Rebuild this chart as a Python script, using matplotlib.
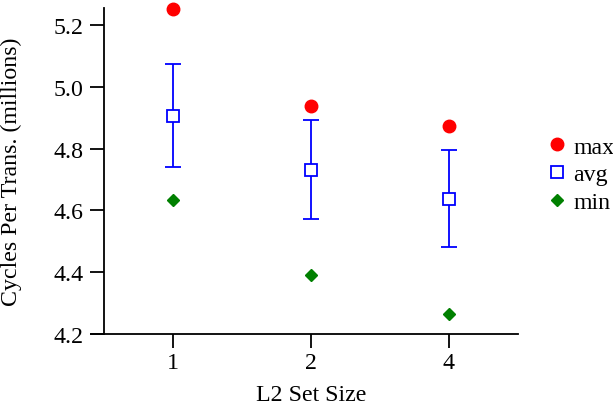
import matplotlib
matplotlib.use("Agg")
import matplotlib.pyplot as plt
from matplotlib.lines import Line2D
import numpy as np

categories = ["1", "2", "4"]
max_vals = [5.252, 4.938, 4.874]
avg_vals = [4.906, 4.732, 4.638]
err_hi = [5.073, 4.891, 4.796]
err_lo = [4.740, 4.571, 4.481]
min_vals = [4.634, 4.392, 4.265]
yticks = [4.2, 4.4, 4.6, 4.8, 5.0, 5.2]

FS = 17.2
plt.rcParams['font.family'] = ['Liberation Serif', 'DejaVu Serif']
plt.rcParams['font.size'] = FS

W, H = 613, 410
fig = plt.figure(figsize=(W / 100, H / 100), dpi=100)
ax = fig.add_axes([91 / W, 75 / H, (518 - 91) / W, (335 - 9) / H])

x = np.arange(len(categories))
avg = np.array(avg_vals)
yerr = np.vstack([avg - np.array(err_lo), np.array(err_hi) - avg])

red, blue, green = '#ff0000', '#0000ff', '#008000'
ax.plot(x, max_vals, linestyle='none', marker='o', color=red,
        markersize=9, clip_on=False, zorder=3)
ax.errorbar(x, avg, yerr=yerr, linestyle='none', marker='s', markersize=8,
            markerfacecolor='white', markeredgecolor=blue, markeredgewidth=1.3,
            ecolor=blue, elinewidth=1.3, capsize=6, capthick=1.3, zorder=3)
ax.plot(x, min_vals, linestyle='none', marker='D', color=green,
        markersize=6.5, zorder=3)

ax.set_xlim(-0.594, 2.5)
ax.set_ylim(4.2, 5.255)
ax.set_xticks(x)
ax.set_xticklabels(categories)
ax.set_yticks(yticks)
ax.set_yticklabels([f"{v:.1f}" for v in yticks])

for s in ['top', 'right']:
    ax.spines[s].set_visible(False)
ax.spines['left'].set_position(('data', -0.5))
for s in ['left', 'bottom']:
    ax.spines[s].set_linewidth(1.3)
ax.tick_params(axis='both', direction='out', length=10, width=1.3, colors='black', labelsize=FS)
ax.tick_params(axis='y', pad=5)
ax.tick_params(axis='x', pad=3)

ax.set_xlabel("L2 Set Size", fontsize=FS)
ax.xaxis.set_label_coords((311 - 91) / (518 - 91), -50 / (335 - 9))
ax.set_ylabel("Cycles Per Trans. (millions)", fontsize=FS)
ax.yaxis.set_label_coords(-(91 - 22) / (518 - 91), 0.5)

handles = [
    Line2D([], [], linestyle='none', marker='o', color=red, markersize=9),
    Line2D([], [], linestyle='none', marker='s', markersize=8, markerfacecolor='white',
           markeredgecolor=blue, markeredgewidth=1.3),
    Line2D([], [], linestyle='none', marker='D', color=green, markersize=6.5),
]
labels = ['max', 'avg', 'min']
fig.legend(handles, labels, loc='center left', bbox_to_anchor=(547 / W, 1 - 175.5 / H),
           frameon=False, handlelength=0.8, handletextpad=0.3, labelspacing=0.25,
           borderpad=0, borderaxespad=0, fontsize=FS, numpoints=1)

fig.savefig("out.png", dpi=100)
